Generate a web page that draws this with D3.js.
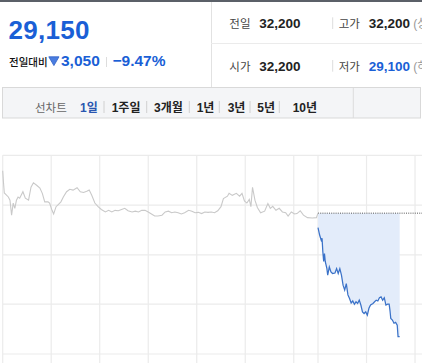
<!DOCTYPE html>
<html><head><meta charset="utf-8">
<script src="https://cdn.jsdelivr.net/npm/d3@7"></script>
<style>
html,body{margin:0;padding:0;background:#fff;overflow:hidden}
svg{display:block}
text{font-family:"Liberation Sans",Arial,"Noto Sans CJK KR",sans-serif}
</style></head>
<body>
<svg id="c" width="422" height="363"></svg>
<script>
// ---------- data ----------
const currentPrice = "29,150";
const changeAbs = "3,050";
const changePct = "−9.47%";
const quoteLabels = ["전일", "고가", "시가", "저가"];
const quoteValues = ["32,200", "32,200", "32,200", "29,100"];
const quoteNotes = ["", "(상한가 41,850)", "", "(하한가 22,550)"];
const tabLabels = ["1일", "1주일", "3개월", "1년", "3년", "5년", "10년"];
const prevClose = 32200;
// previous session: minutes after 09:00 and prices
const prevMinutes = [0,1,2,7,9,11,13,15,17,19,21,25,28,32,35,38,42,46,49,52,56,58,61,63,66,69,72,75,79,83,87,92,96,100,104,107,110,114,118,122,127,131,135,139,143,147,151,155,160,164,168,172,176,180,184,188,192,197,201,205,209,213,217,221,225,230,234,238,242,246,250,254,258,262,266,270,273,278,280,284,289,293,296,299,302,305,307,309,312,315,319,324,328,331,334,338,342,346,350,353,357,361,364,368,372,377,383,388,390];
const prevPrices = [33250,32950,32700,32600,32520,32150,32450,32320,32520,32600,32570,32730,32570,32520,32840,32950,32890,32820,32690,32480,32480,32450,32270,32180,32360,32420,32480,32600,32730,32790,32770,32830,32730,32710,32740,32770,32650,32450,32360,32290,32230,32270,32230,32270,32260,32290,32320,32260,32230,32250,32230,32270,32270,32230,32180,32130,32130,32150,32230,32250,32210,32230,32210,32180,32210,32270,32250,32210,32220,32190,32230,32220,32230,32210,32260,32360,32560,32620,32690,32640,32690,32620,32690,32500,32450,32540,32360,32840,32520,32340,32210,32250,32440,32320,32370,32270,32320,32230,32210,32130,32230,32180,32190,32260,32150,32090,32080,32090,32200];
// today: minutes after 09:00 and prices
const todayMinutes = [0,2,4,5,6,7,8,9,11,12,14,16,18,21,23,25,27,29,31,33,35,37,39,41,43,45,47,49,51,53,55,57,59,61,63,65,68,70,72,74,76,78,80,82,84,86,88,89,90,92,94,96,98,99,101];
const todayPrices = [31840,31660,31530,31580,31240,31010,31200,31000,30830,30670,30870,30750,30710,30720,30830,30710,30830,30670,30420,30300,30460,30180,30090,29980,30030,29950,30010,29970,30050,29930,29760,29720,29760,29680,29850,29930,29970,30010,30050,30030,30110,30130,30050,30110,29930,29950,29950,29800,29600,29560,29480,29500,29430,29150,29150];
const sessionLength = 390;
const xGridMinutes = [0,60,120,180,240,300,360,390,450,510];
const yGridPrices = [33630,32400,31170,29950,28720];

// ---------- drawing ----------
const svg = d3.select("#c");
const W = 422, H = 363;
svg.append("rect").attr("width", W).attr("height", H).attr("fill", "#fff");

// header
svg.append("rect").attr("x", 0).attr("y", 0).attr("width", W).attr("height", 2).attr("fill", "#5b6068");
svg.append("line").attr("x1", 211.5).attr("x2", 211.5).attr("y1", 2).attr("y2", 87).attr("stroke", "#e2e2e2");
svg.append("line").attr("x1", 211).attr("x2", W).attr("y1", 43.5).attr("y2", 43.5).attr("stroke", "#ebebeb");

const blue = "#1a5fd6";
svg.append("text").attr("x", 8.5).attr("y", 39).attr("font-size", 26).attr("font-weight", "bold")
  .attr("fill", blue).attr("letter-spacing", 0.3).text(currentPrice);
svg.append("text").attr("x", 9).attr("y", 66).attr("font-size", 10.5).attr("font-weight", 500).attr("fill", "#111").text("전일대비");
svg.append("path").attr("d", "M48.8,56.8 L59,56.8 L53.9,65.6 Z").attr("fill", "#4a7de0").attr("stroke", "#2d5fc6").attr("stroke-width", 0.8);
svg.append("text").attr("x", 61).attr("y", 66).attr("font-size", 15.5).attr("font-weight", "bold").attr("fill", blue).text(changeAbs);
svg.append("line").attr("x1", 106.5).attr("x2", 106.5).attr("y1", 57).attr("y2", 67).attr("stroke", "#ddd");
svg.append("text").attr("x", 112.5).attr("y", 66).attr("font-size", 15.5).attr("font-weight", "bold").attr("fill", blue).text(changePct);

const rowsY = [28.3, 71];
quoteLabels.forEach((lab, i) => {
  const row = Math.floor(i / 2), col = i % 2;
  const yy = rowsY[row];
  const lx = col === 0 ? 229.3 : 338.7;
  const vx = col === 0 ? 259.3 : 368.7;
  svg.append("text").attr("x", lx).attr("y", yy).attr("font-size", 11.5).attr("fill", "#444").text(lab);
  svg.append("text").attr("x", vx).attr("y", yy).attr("font-size", 13.5).attr("font-weight", "bold")
    .attr("fill", i === 3 ? blue : "#222").text(quoteValues[i]);
  if (quoteNotes[i]) svg.append("text").attr("x", 413.3).attr("y", yy).attr("font-size", 12).attr("fill", "#999").text(quoteNotes[i]);
  if (col === 1) svg.append("line").attr("x1", 332.7).attr("x2", 332.7).attr("y1", yy - 11).attr("y2", yy + 0.7).attr("stroke", "#ddd");
});

// tab bar
svg.append("rect").attr("x", 2.5).attr("y", 87.5).attr("width", 418).attr("height", 30.5)
  .attr("fill", "#f4f5f7").attr("stroke", "#d9d9d9");
svg.append("line").attr("x1", 353.3).attr("x2", 353.3).attr("y1", 88).attr("y2", 118).attr("stroke", "#dcdcdc");
svg.append("text").attr("x", 35).attr("y", 111.5).attr("font-size", 11.5).attr("fill", "#666").text("선차트");
const tabX = [80, 111.7, 154, 196.7, 227.7, 257.3, 292.7];
const sepX = [104, 146.7, 189.3, 219.3, 250, 279.3];
tabLabels.forEach((t, i) => {
  svg.append("text").attr("x", tabX[i]).attr("y", 111.5).attr("font-size", 12).attr("font-weight", "bold")
    .attr("fill", i === 0 ? "#2a56b0" : "#222").text(t);
});
sepX.forEach(xx => svg.append("line").attr("x1", xx).attr("x2", xx).attr("y1", 101).attr("y2", 113).attr("stroke", "#d0d0d0"));

// chart
const x = d3.scaleLinear().domain([0, 519]).range([2.7, 422.3]);
const y = d3.scaleLinear().domain([33630, 28720]).range([155.3, 354]);

const g = svg.append("g");
g.selectAll(".hg").data(yGridPrices).join("line")
  .attr("x1", x(0)).attr("x2", W).attr("y1", d => y(d)).attr("y2", d => y(d))
  .attr("stroke", "#ebebeb").attr("stroke-width", 1.2);
g.selectAll(".vg").data(xGridMinutes).join("line")
  .attr("x1", d => x(d)).attr("x2", d => x(d)).attr("y1", y(yGridPrices[0])).attr("y2", H)
  .attr("stroke", "#ebebeb").attr("stroke-width", 1.2);

const prevData = d3.zip(prevMinutes, prevPrices);
const todayData = d3.zip(todayMinutes, todayPrices).map(([m, p]) => [m + sessionLength, p]);

g.append("path").datum(todayData)
  .attr("d", d3.area().x(d => x(d[0])).y0(y(prevClose)).y1(d => y(d[1])))
  .attr("fill", "#e3ecfa");

g.append("line").attr("x1", x(sessionLength)).attr("x2", W).attr("y1", y(prevClose)).attr("y2", y(prevClose))
  .attr("stroke", "#555").attr("stroke-dasharray", "1,1.2").attr("stroke-width", 1);

g.append("path").datum(prevData)
  .attr("d", d3.line().x(d => x(d[0])).y(d => y(d[1])))
  .attr("fill", "none").attr("stroke", "#c9c9c9").attr("stroke-width", 1.1);

g.append("path").datum(todayData)
  .attr("d", d3.line().x(d => x(d[0])).y(d => y(d[1])))
  .attr("fill", "none").attr("stroke", "#3b72c8").attr("stroke-width", 1.25);
</script>
</body></html>
